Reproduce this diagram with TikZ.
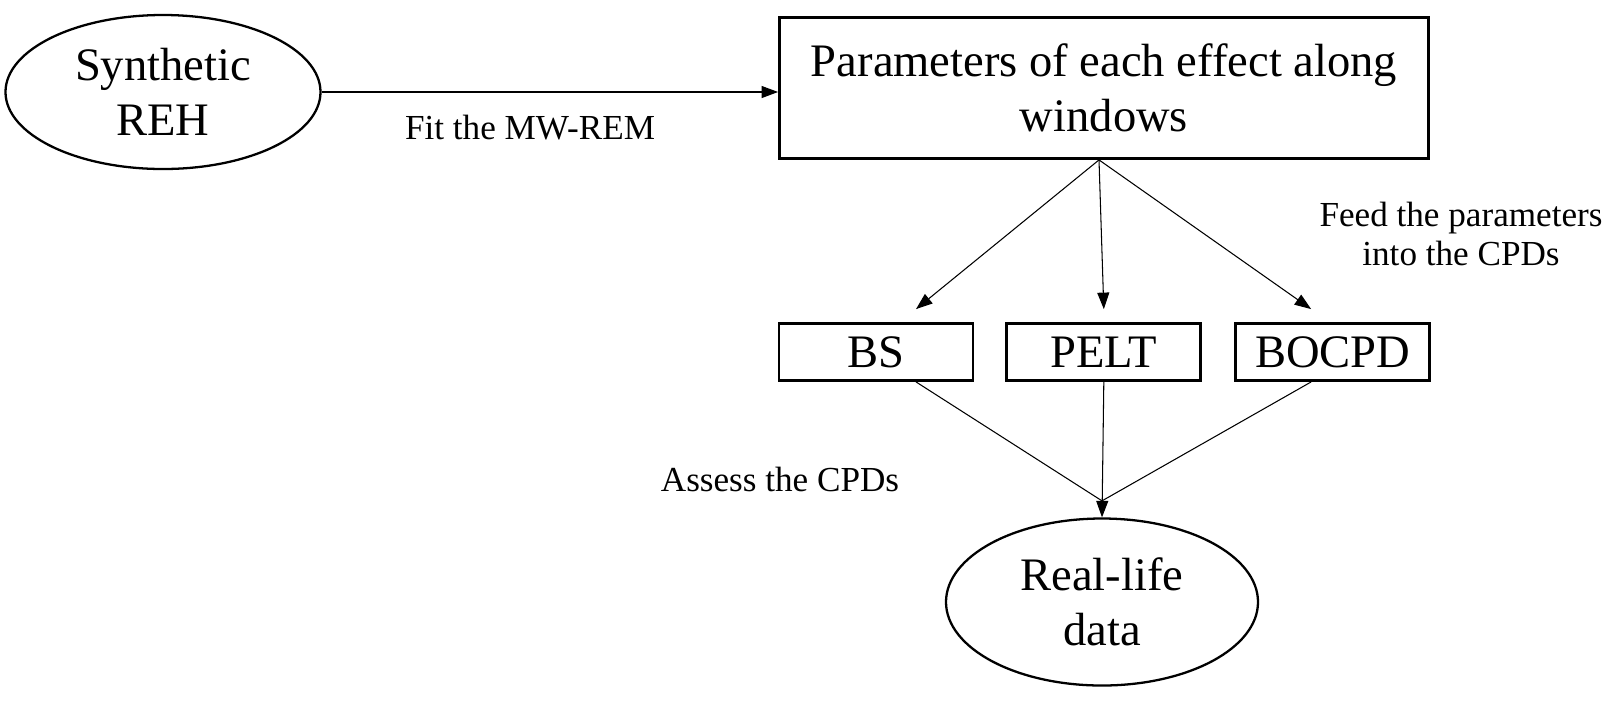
\documentclass[tikz,border=0pt]{standalone}
\usepackage{fontspec}
\setmainfont{Liberation Serif}
\usetikzlibrary{positioning}
\usetikzlibrary{shapes.geometric}
\usetikzlibrary{arrows.meta}

\begin{document}
\begin{tikzpicture}[x=0.2mm, y=-0.2mm, >={Triangle[length=3.3mm, width=2.4mm]},
    bigtext/.style={font=\fontsize{26.5}{31}\selectfont},
    smalltext/.style={font=\fontsize{20}{22}\selectfont, align=center},
    datablob/.style={ellipse, draw, line width=1.3pt, inner sep=0pt, align=center, bigtext},
    cpdbox/.style={rectangle, draw, line width=1.6pt, minimum width=38.8mm,
                   minimum height=11.4mm, inner sep=0pt, bigtext},
    link/.style={line width=0.6pt}]
    \useasboundingbox (0,0) rectangle (1610,706);

    \node [datablob, minimum width=63mm, minimum height=30.8mm] (reh) at (163,92) {Synthetic\\REH};
    \node [rectangle, draw, line width=1.6pt, minimum width=129.8mm, minimum height=28.2mm,
           align=center, bigtext] (params) at (1104,88) {Parameters of each effect along\\windows};

    \node [cpdbox] (bs) at (876,352) {BS};
    \node [cpdbox, right=6.2mm of bs] (pelt) {PELT};
    \node [cpdbox, right=6.4mm of pelt] (bocpd) {BOCPD};

    \node [datablob, minimum width=62.4mm, minimum height=33.4mm] (real) at (1102,602) {Real-life\\data};

    \node [smalltext] (fitlbl) at (530,128) {Fit the MW-REM};
    \node [smalltext] (feedlbl) at (1461,234) {Feed the parameters\\into the CPDs};
    \node [smalltext] (assesslbl) at (780,479) {Assess the CPDs};

    \coordinate (fan) at ([xshift=-1mm]params.south);
    \coordinate (meet) at ([yshift=3.3mm]real.north);

    \draw [link, ->] (reh.east) -- (reh.east -| params.west);

    \draw [link, ->] (fan) -- ([xshift=8mm, yshift=2.6mm]bs.north);
    \draw [link, ->] (fan) -- ([yshift=2.6mm]pelt.north);
    \draw [link, ->] (fan) -- ([xshift=-4.3mm, yshift=2.6mm]bocpd.north);

    \draw [link] ([xshift=8mm]bs.south) -- (meet);
    \draw [link, ->] (pelt.south) -- (real.north);
    \draw [link] ([xshift=-4.3mm]bocpd.south) -- (meet);
\end{tikzpicture}
\end{document}
